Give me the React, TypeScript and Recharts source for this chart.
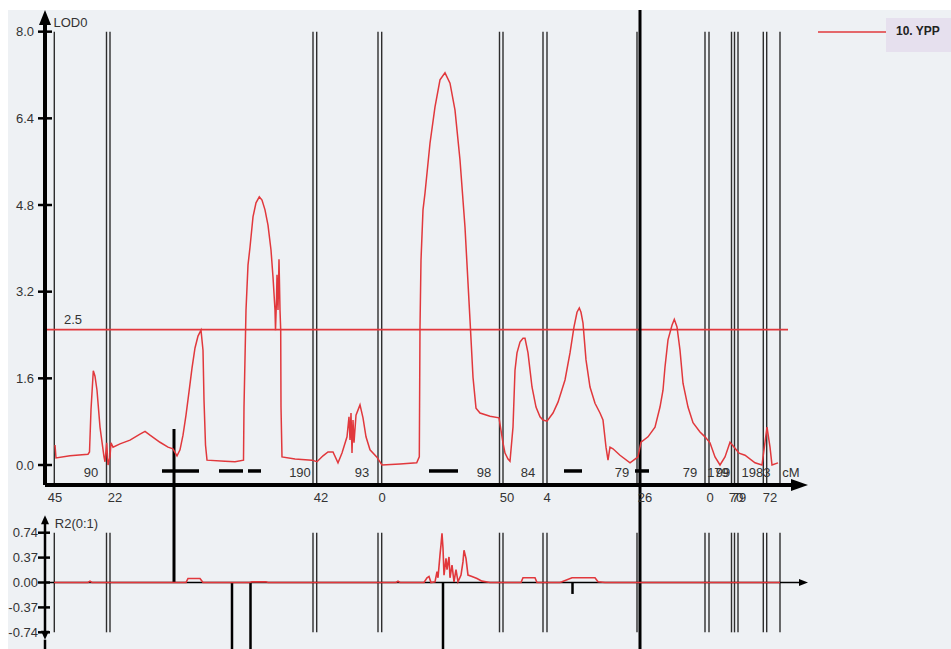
import {
  ComposedChart,
  Line,
  XAxis,
  YAxis,
  ReferenceLine,
  ReferenceDot,
  Legend,
} from "recharts";

// position along the concatenated linkage map (cM, arbitrary offset)
const lodPos = [
  10, 11, 25, 43, 44.5, 46, 48.3, 50, 52, 55, 59, 60, 61.7, 63, 65, 66, 68, 75, 85, 95,
  100, 105, 115, 123, 128, 132, 135, 138, 141, 144, 147, 150, 153, 156, 158, 159, 160.5, 162, 180, 190,
  198.5, 199, 201, 203, 205, 208, 211, 214.3, 217, 220, 223, 226, 228, 230, 230.5, 231.5, 232, 233, 234, 235,
  235.7, 236, 237, 250, 267, 272, 278, 283, 288, 293, 297, 302, 304, 305, 306, 307, 308, 309, 311, 315,
  318, 321, 325, 331.7, 337, 355, 371.7, 374.3, 375, 376, 378, 380, 385, 390, 395, 400, 405, 410, 415, 420,
  425, 428, 431, 435, 445, 454, 458, 460, 463, 465, 468, 470, 472, 475, 478, 480, 483, 487, 491, 495,
  498, 502, 508, 513, 520, 525, 529, 532, 534.3, 536, 538, 541, 545, 550, 555, 558, 561, 563, 565, 568,
  575, 585, 590, 593, 596, 603, 610, 615, 618, 620, 623, 627, 629.3, 632, 635, 638, 643, 648, 655, 660,
  665, 670, 675, 680, 685, 694, 700, 710, 717, 722, 725, 727, 733,
];
const lodVal = [
  0.37, 0.13, 0.17, 0.2, 0.24, 1.02, 1.74, 1.64, 1.38, 0.7, 0.15, 0.06, 0.41, 0.0, 0.15, 0.41, 0.33, 0.39, 0.46, 0.57,
  0.62, 0.55, 0.42, 0.33, 0.3, 0.17, 0.28, 0.55, 0.92, 1.35, 1.79, 2.16, 2.38, 2.49, 2.12, 1.2, 0.37, 0.09, 0.07, 0.06,
  0.09, 1.07, 2.86, 3.69, 4.02, 4.58, 4.84, 4.95, 4.89, 4.71, 4.43, 3.97, 3.47, 2.86, 2.49, 3.05, 3.51, 2.86, 3.8, 2.86,
  2.49, 1.07, 0.15, 0.11, 0.09, 0.06, 0.17, 0.24, 0.24, 0.04, 0.22, 0.52, 0.89, 0.46, 0.96, 0.22, 0.83, 0.41, 0.92, 1.11,
  0.87, 0.52, 0.28, 0.15, 0.0, 0.02, 0.04, 0.15, 2.55, 3.78, 4.71, 5.02, 5.94, 6.61, 7.11, 7.24, 7.05, 6.55, 5.63, 4.39,
  2.68, 1.62, 1.05, 0.96, 0.9, 0.87, 0.41, 0.22, 0.11, 0.07, 0.7, 1.75, 2.07, 2.27, 2.34, 2.34, 2.07, 1.44, 1.07, 0.89,
  0.83, 0.81, 0.96, 1.16, 1.57, 2.07, 2.55, 2.82, 2.9, 2.82, 2.62, 1.94, 1.44, 1.14, 0.96, 0.83, 0.33, 0.09, 0.33, 0.3,
  0.18, 0.04, 0.11, 0.15, 0.42, 0.52, 0.7, 1.07, 1.38, 1.81, 2.31, 2.58, 2.69, 2.55, 2.12, 1.51, 1.07, 0.78, 0.61, 0.52,
  0.41, 0.15, 0.0, 0.15, 0.42, 0.22, 0.18, 0.04, 0.0, 0.7, 0.33, 0.0, 0.04,
];

const r2Pos = [
  9, 43, 45, 47, 141, 143, 155, 158, 205, 207, 221, 223, 351, 353, 355, 379, 382, 384, 386, 390,
  392, 393, 395, 396, 397, 398, 399, 401, 402, 404, 405, 407, 409, 411, 413, 416, 418, 419, 421, 423,
  427, 432, 437, 445, 476, 478, 490, 492, 515, 517, 527, 550, 553, 560, 735,
];
const r2Val = [
  0, 0, 0.02, 0, 0, 0.06, 0.06, 0, 0, 0.01, 0.01, 0, 0, 0.02, 0, 0, 0.07, 0.09, 0, 0.01,
  0.16, 0.07, 0.41, 0.56, 0.73, 0.51, 0.11, 0.36, 0.19, 0.38, 0.07, 0.26, 0.01, 0.19, 0.01, 0.11, 0.31, 0.48, 0.36, 0.11,
  0.09, 0.06, 0.02, 0, 0, 0.07, 0.07, 0, 0, 0.01, 0.07, 0.07, 0.01, 0, 0,
];

// chromosome / marker boundary lines
const markerPos = [
  9.3, 61.5, 65, 268, 271.7, 333, 336.7, 454.5, 458, 498, 502, 592, 595,
  660, 664, 686.5, 689.5, 693, 718.3, 721.7, 735,
];

// support intervals drawn under the curve
const supportSpans: [number, number][] = [
  [117, 154], [174, 198], [203, 216], [384, 413], [519, 537], [590, 604],
];

const upperLabels = [
  { pos: 46, text: "90" }, { pos: 255, text: "190" }, { pos: 317, text: "93" },
  { pos: 439, text: "98" }, { pos: 483, text: "84" }, { pos: 577, text: "79" },
  { pos: 645, text: "79" }, { pos: 673, text: "179" }, { pos: 678, text: "99" },
  { pos: 711, text: "1983" }, { pos: 746, text: "cM" },
];
const lowerLabels = [
  { pos: 10, text: "45" }, { pos: 70, text: "22" }, { pos: 276, text: "42" },
  { pos: 337, text: "0" }, { pos: 462, text: "50" }, { pos: 502, text: "4" },
  { pos: 600, text: "26" }, { pos: 665, text: "0" }, { pos: 691, text: "70" },
  { pos: 694, text: "79" }, { pos: 725, text: "72" },
];

const lodTicks = [0, 1.6, 3.2, 4.8, 6.4, 8.0];
const r2Ticks = [-0.74, -0.37, 0, 0.37, 0.74];
const threshold = 2.5;

const qtlCross = { pos: 129, lod: 0.665 };
const longLinePos = 595;
const r2Bars = [
  { pos: 187, r2: -0.988 }, { pos: 205.5, r2: -0.988 },
  { pos: 398, r2: -0.988 }, { pos: 527.5, r2: -0.17 },
];

const X_MAX = 763;
const LOD_DOMAIN: [number, number] = [-0.646, 8.4];
const R2_DOMAIN: [number, number] = [-0.988, 1.226];
const AXIS_LOD = -0.369;

const RED = "#e1383c";
const INK = "#333";

const lodData = lodPos.map((p, i) => ({ pos: p, lod: lodVal[i] }));
const r2Data = r2Pos.map((p, i) => ({ pos: p, r2: r2Val[i] }));

function arrowShape(len: number, half: number, both = false) {
  return (p: any) => {
    const { x1, y1, x2, y2, stroke, strokeWidth } = p;
    const dx = x2 - x1;
    const dy = y2 - y1;
    const d = Math.hypot(dx, dy) || 1;
    const ux = dx / d;
    const uy = dy / d;
    const head = (tx: number, ty: number, sx: number, sy: number) => {
      const bx = tx - sx * len;
      const by = ty - sy * len;
      return `${tx},${ty} ${bx - sy * half},${by + sx * half} ${bx + sy * half},${by - sx * half}`;
    };
    return (
      <g>
        <line
          x1={both ? x1 + ux * len * 0.5 : x1}
          y1={both ? y1 + uy * len * 0.5 : y1}
          x2={x2 - ux * len * 0.5}
          y2={y2 - uy * len * 0.5}
          stroke={stroke}
          strokeWidth={strokeWidth}
        />
        <polygon points={head(x2, y2, ux, uy)} fill={stroke} />
        {both && <polygon points={head(x1, y1, -ux, -uy)} fill={stroke} />}
      </g>
    );
  };
}

const AxisTick = (props: any) => {
  const { x, y, payload, digits, lineFrom, lineTo } = props;
  return (
    <g>
      <line x1={x + lineFrom} x2={x + lineTo} y1={y} y2={y} stroke="#000" strokeWidth={2.5} />
      <text x={x} y={y} dy={4.5} textAnchor="end" fontSize={13} fill={INK}>
        {Number(payload.value).toFixed(digits)}
      </text>
    </g>
  );
};

const textLabel = (value: string, size = 13) => ({
  value,
  position: "center" as const,
  fill: INK,
  fontSize: size,
});

const renderLegend = (props: any) => {
  const name = props.payload && props.payload[0] ? props.payload[0].value : "";
  return (
    <div style={{ display: "flex", alignItems: "flex-start" }}>
      <svg width={70} height={34}>
        <line x1={2} x2={70} y1={14} y2={14} stroke={RED} strokeWidth={1.5} />
      </svg>
      <div
        style={{
          background: "#e6e0ee",
          width: 65,
          height: 34,
          boxSizing: "border-box",
          paddingLeft: 10,
          paddingTop: 6,
          fontSize: 12,
          fontWeight: "bold",
          color: "#222",
        }}
      >
        {name}
      </div>
    </div>
  );
};

export default function App() {
  return (
    <div
      style={{
        position: "relative",
        width: 951,
        height: 649,
        background: "#fff",
        overflow: "hidden",
        fontFamily: "'Liberation Sans', Arial, sans-serif",
      }}
    >
      <style>{"body{margin:0}"}</style>
      <div style={{ position: "absolute", left: 8, top: 10, right: 0, bottom: 0, background: "#eef1f4" }} />

      <div style={{ position: "absolute", left: 0, top: 500 }}>
        <ComposedChart width={951} height={149} data={r2Data} margin={{ top: 0, right: 143, bottom: 0, left: 0 }}>
          <XAxis dataKey="pos" type="number" domain={[0, X_MAX]} hide allowDataOverflow />
          <YAxis
            type="number"
            domain={R2_DOMAIN}
            ticks={r2Ticks}
            interval={0}
            width={45}
            allowDataOverflow
            axisLine={false}
            tickLine={false}
            tickSize={0}
            tickMargin={7}
            tick={<AxisTick digits={2} lineFrom={0} lineTo={12} />}
          />
          {markerPos.map((p) => (
            <ReferenceLine
              key={"m" + p}
              segment={[{ x: p, y: 0.74 }, { x: p, y: -0.74 }]}
              stroke="#2e2e2e"
              strokeWidth={1.4}
            />
          ))}
          <ReferenceLine
            segment={[{ x: 0, y: 0 }, { x: X_MAX, y: 0 }]}
            stroke="#000"
            strokeWidth={1.5}
            shape={arrowShape(9, 3.5)}
          />
          <ReferenceLine
            segment={[{ x: qtlCross.pos, y: R2_DOMAIN[1] }, { x: qtlCross.pos, y: 0 }]}
            stroke="#000"
            strokeWidth={3}
          />
          <ReferenceLine
            segment={[{ x: longLinePos, y: R2_DOMAIN[1] }, { x: longLinePos, y: R2_DOMAIN[0] }]}
            stroke="#000"
            strokeWidth={3}
          />
          {r2Bars.map((b) => (
            <ReferenceLine
              key={"b" + b.pos}
              segment={[{ x: b.pos, y: 0 }, { x: b.pos, y: b.r2 }]}
              stroke="#000"
              strokeWidth={2.5}
            />
          ))}
          <Line
            dataKey="r2"
            type="linear"
            stroke={RED}
            strokeWidth={1.6}
            dot={false}
            activeDot={false}
            isAnimationActive={false}
          />
          <ReferenceLine
            segment={[{ x: 0, y: -0.85 }, { x: 0, y: 1.0 }]}
            stroke="#000"
            strokeWidth={2.5}
            shape={arrowShape(9, 4, true)}
          />
          <ReferenceLine segment={[{ x: 0, y: R2_DOMAIN[0] }, { x: 0, y: -0.85 }]} stroke="#000" strokeWidth={2.5} />
          <ReferenceDot x={31.5} y={0.884} r={0} label={textLabel("R2(0:1)", 13)} />
        </ComposedChart>
      </div>

      <div style={{ position: "absolute", left: 0, top: 0 }}>
        <ComposedChart width={951} height={520} data={lodData} margin={{ top: 10, right: 143, bottom: 20, left: 0 }}>
          <XAxis dataKey="pos" type="number" domain={[0, X_MAX]} hide allowDataOverflow />
          <YAxis
            type="number"
            domain={LOD_DOMAIN}
            ticks={lodTicks}
            interval={0}
            width={45}
            allowDataOverflow
            axisLine={false}
            tickLine={false}
            tickSize={0}
            tickMargin={11}
            tick={<AxisTick digits={1} lineFrom={4} lineTo={18} />}
          />
          {markerPos.map((p) => (
            <ReferenceLine
              key={"m" + p}
              segment={[{ x: p, y: 8 }, { x: p, y: AXIS_LOD }]}
              stroke="#2e2e2e"
              strokeWidth={1.4}
            />
          ))}
          <ReferenceLine
            segment={[{ x: 0, y: threshold }, { x: 743, y: threshold }]}
            stroke={RED}
            strokeWidth={1.6}
          />
          {supportSpans.map(([a, b]) => (
            <ReferenceLine
              key={"s" + a}
              segment={[{ x: a, y: -0.11 }, { x: b, y: -0.11 }]}
              stroke="#000"
              strokeWidth={3.5}
            />
          ))}
          <ReferenceLine
            segment={[{ x: qtlCross.pos, y: qtlCross.lod }, { x: qtlCross.pos, y: LOD_DOMAIN[0] }]}
            stroke="#000"
            strokeWidth={3}
          />
          <ReferenceLine
            segment={[{ x: longLinePos, y: LOD_DOMAIN[1] }, { x: longLinePos, y: LOD_DOMAIN[0] }]}
            stroke="#000"
            strokeWidth={3}
          />
          <Line
            dataKey="lod"
            name="10. YPP"
            type="linear"
            stroke={RED}
            strokeWidth={1.5}
            dot={false}
            activeDot={false}
            isAnimationActive={false}
          />
          <ReferenceLine
            segment={[{ x: 0, y: AXIS_LOD }, { x: 0, y: LOD_DOMAIN[1] }]}
            stroke="#000"
            strokeWidth={4}
            shape={arrowShape(15, 6)}
          />
          <ReferenceLine
            segment={[{ x: 0, y: AXIS_LOD }, { x: X_MAX, y: AXIS_LOD }]}
            stroke="#000"
            strokeWidth={4}
            shape={arrowShape(17, 6)}
          />
          <ReferenceDot x={25.5} y={8.18} r={0} label={textLabel("LOD0", 13)} />
          <ReferenceDot x={28} y={2.68} r={0} label={textLabel("2.5", 13)} />
          {upperLabels.map((l) => (
            <ReferenceDot key={"u" + l.pos} x={l.pos} y={-0.13} r={0} label={textLabel(l.text)} />
          ))}
          {lowerLabels.map((l) => (
            <ReferenceDot key={"l" + l.pos} x={l.pos} y={-0.6} r={0} label={textLabel(l.text)} />
          ))}
          <Legend
            content={renderLegend}
            layout="vertical"
            align="center"
            verticalAlign="middle"
            wrapperStyle={{ left: 816, top: 18, width: 135, height: 34 }}
          />
        </ComposedChart>
      </div>
    </div>
  );
}
